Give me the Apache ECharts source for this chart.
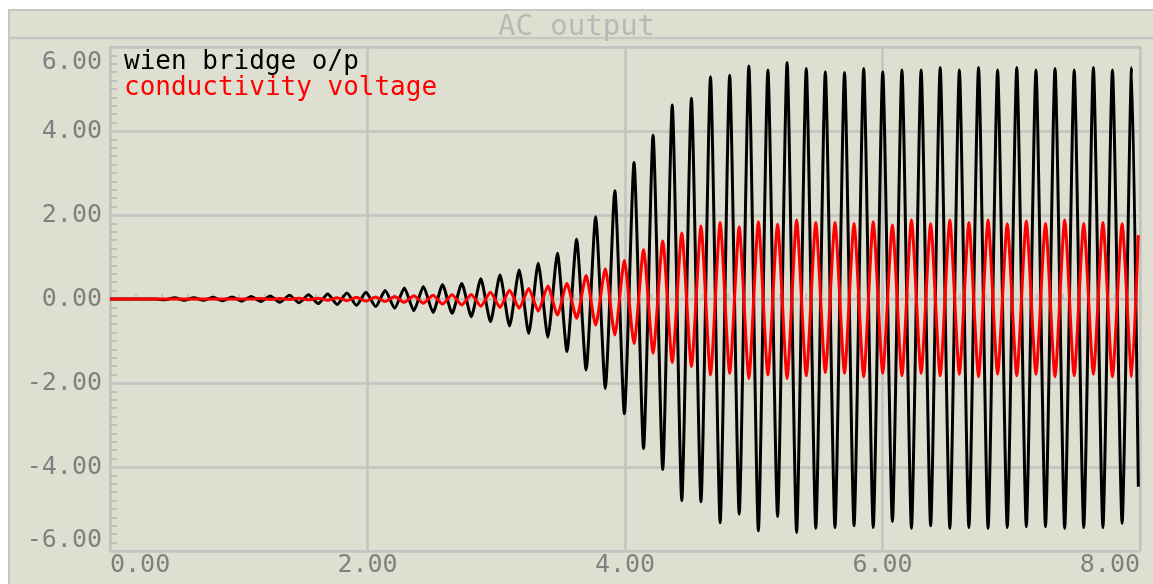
<!DOCTYPE html>
<html>
<head>
<meta charset="utf-8">
<script src="https://cdn.jsdelivr.net/npm/echarts@6/dist/echarts.min.js"></script>
<style>
html,body{margin:0;padding:0;background:#fff;}
#chart{width:1153px;height:584px;}
</style>
</head>
<body>
<div id="chart"></div>
<script>
// Time (x) of each sample: start, then successive peaks/troughs
const times = [0,
  0.353, 0.428, 0.502, 0.576, 0.651, 0.725, 0.799, 0.873, 0.948, 1.022,
  1.096, 1.171, 1.245, 1.319, 1.394, 1.468, 1.542, 1.617, 1.691, 1.765,
  1.840, 1.914, 1.988, 2.063, 2.137, 2.211, 2.286, 2.360, 2.434, 2.509,
  2.583, 2.657,
  2.732, 2.806, 2.880, 2.955, 3.029, 3.103, 3.178, 3.252, 3.326, 3.401,
  3.475, 3.549, 3.624, 3.698, 3.772, 3.847, 3.921, 3.995, 4.070, 4.144,
  4.218, 4.293, 4.367, 4.441, 4.516, 4.590, 4.664, 4.739, 4.813, 4.887,
  4.962, 5.036, 5.110, 5.185, 5.259, 5.333, 5.408, 5.482, 5.556, 5.631,
  5.705, 5.779, 5.854, 5.928, 6.002, 6.077, 6.151, 6.225, 6.300, 6.374,
  6.448, 6.523, 6.597, 6.671, 6.746, 6.820, 6.894, 6.969, 7.043, 7.117,
  7.192, 7.266, 7.340, 7.415, 7.489, 7.563, 7.638, 7.712, 7.786, 7.861,
  7.935,
  7.987];

const wienBridge = [0,
  0.00, -0.02, 0.03, -0.03, 0.03, -0.03, 0.04, -0.04, 0.05, -0.05,
  0.06, -0.06, 0.07, -0.08, 0.09, -0.09, 0.10, -0.11, 0.12, -0.13,
  0.14, -0.15, 0.16, -0.18, 0.20, -0.22, 0.26, -0.28, 0.30, -0.32,
  0.34, -0.34,
  0.37, -0.42, 0.48, -0.54, 0.57, -0.64, 0.69, -0.82, 0.85, -0.91,
  1.09, -1.25, 1.42, -1.69, 1.96, -2.13, 2.58, -2.73, 3.25, -3.56,
  3.90, -4.06, 4.62, -4.80, 4.78, -4.83, 5.29, -5.33, 5.33, -5.12,
  5.55, -5.52, 5.45, -5.18, 5.63, -5.56, 5.49, -5.46, 5.41, -5.44,
  5.39, -5.40, 5.49, -5.44, 5.41, -5.30, 5.45, -5.46, 5.45, -5.40,
  5.51, -5.46, 5.45, -5.44, 5.51, -5.46, 5.45, -5.44, 5.51, -5.42,
  5.45, -5.42, 5.49, -5.46, 5.45, -5.44, 5.51, -5.44, 5.45, -5.34,
  5.51,
  -4.47];

const conductivity = [0,
  0, 0, 0, 0, 0, 0, 0, 0, 0, 0,
  0, 0.01, -0.01, 0.01, -0.01, 0.02, -0.02, 0.02, -0.03, 0.03,
  -0.04, 0.04, -0.05, 0.05, -0.06, 0.06, -0.08, 0.08, -0.10, 0.09,
  -0.12, 0.10,
  -0.14, 0.11, -0.17, 0.16, -0.20, 0.21, -0.22, 0.25, -0.29, 0.31,
  -0.38, 0.37, -0.46, 0.56, -0.62, 0.72, -0.86, 0.92, -1.06, 1.17,
  -1.29, 1.38, -1.51, 1.57, -1.61, 1.74, -1.81, 1.82, -1.77, 1.72,
  -1.89, 1.84, -1.81, 1.78, -1.89, 1.88, -1.83, 1.82, -1.75, 1.82,
  -1.77, 1.80, -1.85, 1.84, -1.77, 1.76, -1.83, 1.88, -1.77, 1.79,
  -1.83, 1.88, -1.79, 1.82, -1.85, 1.88, -1.79, 1.79, -1.83, 1.86,
  -1.79, 1.80, -1.85, 1.88, -1.83, 1.80, -1.79, 1.82, -1.85, 1.79,
  -1.85,
  1.52];

const seriesNames = ['wien bridge o/p', 'conductivity voltage'];
const titleText = 'AC output';

const MONO = 'DejaVu Sans Mono';
const GRID_C = '#c3c3c0';
const LABEL_C = '#808080';

function zip(xs, ys) { return xs.map((x, i) => [x, ys[i]]); }

const chart = echarts.init(document.getElementById('chart'), null, {renderer: 'canvas'});
chart.setOption({
  animation: false,
  backgroundColor: '#ffffff',
  graphic: [
    {type: 'rect', z: -100, silent: true,
     shape: {x: 9, y: 10, width: 1200, height: 620},
     style: {fill: '#dfdfd1', stroke: '#c6c6c2', lineWidth: 2}},
    {type: 'line', z: -99, silent: true,
     shape: {x1: 9, y1: 38, x2: 1153, y2: 38},
     style: {stroke: '#c6c6c2', lineWidth: 2.5}}
  ],
  title: {
    text: titleText, left: 'center', top: 8,
    textStyle: {color: '#b8b8b6', fontFamily: MONO, fontSize: 29, fontWeight: 'normal'}
  },
  legend: {
    data: [
      {name: seriesNames[0], textStyle: {color: '#000000'}},
      {name: seriesNames[1], textStyle: {color: '#ff0000'}}
    ],
    orient: 'vertical', left: 119, top: 49, padding: 0,
    itemWidth: 0, itemHeight: 0, itemGap: 0, icon: 'rect',
    selectedMode: false,
    textStyle: {fontFamily: MONO, fontSize: 26, lineHeight: 26}
  },
  grid: {
    left: 110, right: 13, top: 47, bottom: 33,
    show: true, borderColor: GRID_C, borderWidth: 2, backgroundColor: 'transparent'
  },
  xAxis: {
    type: 'value', min: 0, max: 8, interval: 2,
    axisLine: {show: true, lineStyle: {color: GRID_C, width: 2}},
    axisTick: {show: true, inside: true, length: 5, lineStyle: {color: GRID_C, width: 2}},
    minorTick: {show: true, splitNumber: 10, length: 5, lineStyle: {color: '#b9b9b6', width: 1.5}},
    splitLine: {show: true, lineStyle: {color: GRID_C, width: 2.5}},
    axisLabel: {
      formatter: v => v.toFixed(2), color: LABEL_C, fontFamily: MONO, fontSize: 25, margin: 2,
      alignMinLabel: 'left', alignMaxLabel: 'right'
    }
  },
  yAxis: {
    type: 'value', min: -6, max: 6, interval: 2,
    axisLine: {show: true, lineStyle: {color: GRID_C, width: 2}},
    axisTick: {show: true, inside: true, length: 7, lineStyle: {color: GRID_C, width: 2}},
    minorTick: {show: true, splitNumber: 10, length: 7, lineStyle: {color: '#b9b9b6', width: 1.5}},
    splitLine: {show: true, lineStyle: {color: GRID_C, width: 2.5}},
    axisLabel: {
      color: LABEL_C, fontFamily: MONO, fontSize: 25, margin: 8,
      formatter: v => v === 6 ? '{t|' + v.toFixed(2) + '}' : (v === -6 ? '{b|' + v.toFixed(2) + '}' : v.toFixed(2)),
      rich: {
        t: {color: LABEL_C, fontFamily: MONO, fontSize: 25, padding: [30, 0, 0, 0]},
        b: {color: LABEL_C, fontFamily: MONO, fontSize: 25, padding: [0, 0, 22, 0]}
      }
    }
  },
  series: [
    {name: seriesNames[0], type: 'line', data: zip(times, wienBridge), showSymbol: false, symbol: 'none',
     smooth: 0.2, lineStyle: {color: '#000000', width: 3}, itemStyle: {color: '#000000'}, z: 3},
    {name: seriesNames[1], type: 'line', data: zip(times, conductivity), showSymbol: false, symbol: 'none',
     smooth: 0.2, lineStyle: {color: '#ff0000', width: 3}, itemStyle: {color: '#ff0000'}, z: 4}
  ]
});
</script>
</body>
</html>
